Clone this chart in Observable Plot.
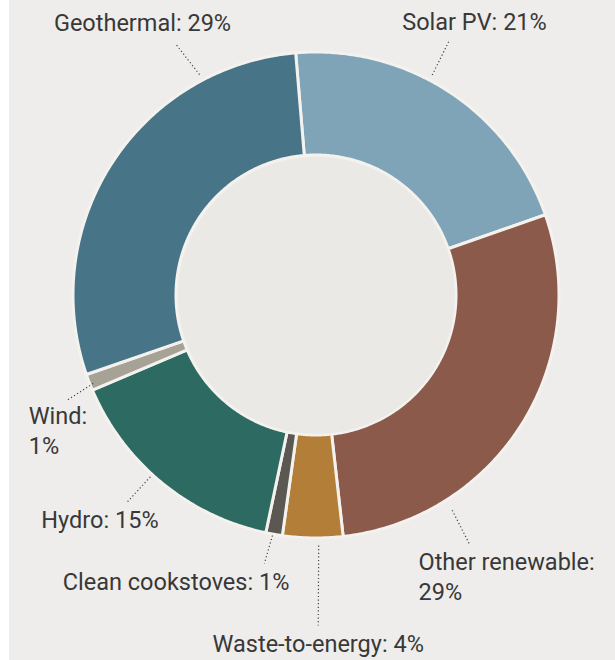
<!DOCTYPE html>
<html><head><meta charset="utf-8">
<script src="https://cdn.jsdelivr.net/npm/d3@7"></script>
<script src="https://cdn.jsdelivr.net/npm/@observablehq/plot@0.6"></script>
<style>
html,body{margin:0;padding:0;background:#ffffff;}
#wrap{padding-left:9px;width:606px;}
#wrap svg{display:block;background:#eeedeb;}
</style></head><body><div id="wrap"></div>
<script>
// ---- data ----
const categories = ["Solar PV", "Other renewable", "Waste-to-energy", "Clean cookstoves", "Hydro", "Wind", "Geothermal"];
const shares = [21.0, 28.6, 4.0, 1.1, 15.3, 1.1, 29.0];
const labelNames = ["Solar PV: ", "Other renewable:\n", "Waste-to-energy: ", "Clean cookstoves: ", "Hydro: ", "Wind:\n", "Geothermal: "];
const colors = ["#7fa4b8", "#8c5a4b", "#b37f38", "#5b5752", "#2d6b62", "#a6a296", "#487488"];

// ---- layout ----
const X0 = 9, W = 606, H = 660;
const CX = 316, CY = 295, R_OUT = 243, R_IN = 140, START = -4.8;
// leader lines: [angle1, r1, angle2, r2], text offset from leader end, anchor
const leaderLayout = [
  [27.7, 249, 27.5, 288],
  [147.7, 254, 148.4, 292],
  [179.5, 250, 179.7, 330],
  [190.4, 244, 191.0, 273],
  [222.5, 246, 222.5, 280],
  [248.5, 240, 247.2, 271],
  [332.1, 250, 330.8, 287]
];
const textLayout = [
  [25, -20, "middle"],
  [-51, 31, "start"],
  [0, 17, "middle"],
  [25, 17, "end"],
  [-86, 16, "start"],
  [-38, 29, "start"],
  [-34, -24, "middle"]
];

const polar = (deg, r) => {
  const a = deg * Math.PI / 180;
  return [CX + r * Math.sin(a), CY - r * Math.cos(a)];
};

const total = d3.sum(shares);
const rows = [];
let cum = 0;
categories.forEach((cat, i) => {
  const a0 = START + cum / total * 360;
  cum += shares[i];
  const a1 = START + cum / total * 360;
  const n = Math.max(2, Math.ceil((a1 - a0) / 0.5));
  for (let k = 0; k <= n; k++) {
    const a = a0 + (a1 - a0) * k / n;
    const [xi, yi] = polar(a, R_IN);
    const [xo, yo] = polar(a, R_OUT);
    rows.push({cat, xi, yi, xo, yo});
  }
});

const leaders = categories.map((cat, i) => {
  const [a1, r1, a2, r2] = leaderLayout[i];
  const [x1, y1] = polar(a1, r1);
  const [x2, y2] = polar(a2, r2);
  const [dx, dy, anchor] = textLayout[i];
  return {cat, x1, y1, x2, y2, tx: x2 + dx, ty: y2 + dy, anchor,
          text: labelNames[i] + Math.round(shares[i]) + "%"};
});

const textMark = anchor => Plot.text(leaders.filter(d => d.anchor === anchor), {
  x: "tx", y: "ty", text: "text", textAnchor: anchor,
  fontSize: 23.5, fontFamily: "Roboto, 'Liberation Sans', sans-serif",
  fill: "#383838", lineHeight: 1.28
});

const chart = Plot.plot({
  width: W, height: H,
  margin: 0,
  x: {domain: [X0, X0 + W], range: [0, W], axis: null},
  y: {domain: [0, H], range: [0, H], axis: null},
  color: {type: "ordinal", domain: categories, range: colors},
  style: {background: "#eeedeb"},
  marks: [
    Plot.area(rows, {x1: "xi", y1: "yi", x2: "xo", y2: "yo", z: "cat", fill: "cat",
      stroke: "#f4f2ee", strokeWidth: 3}),
    Plot.dot([{x: CX, y: CY}], {x: "x", y: "y", r: R_IN - 1.5, fill: "#ebe9e6", stroke: "none"}),
    Plot.link(leaders, {x1: "x1", y1: "y1", x2: "x2", y2: "y2",
      stroke: "#444", strokeWidth: 1.2, strokeDasharray: "1.2,2.4"}),
    textMark("start"), textMark("middle"), textMark("end")
  ]
});
document.getElementById("wrap").appendChild(chart);
</script>
</body></html>
